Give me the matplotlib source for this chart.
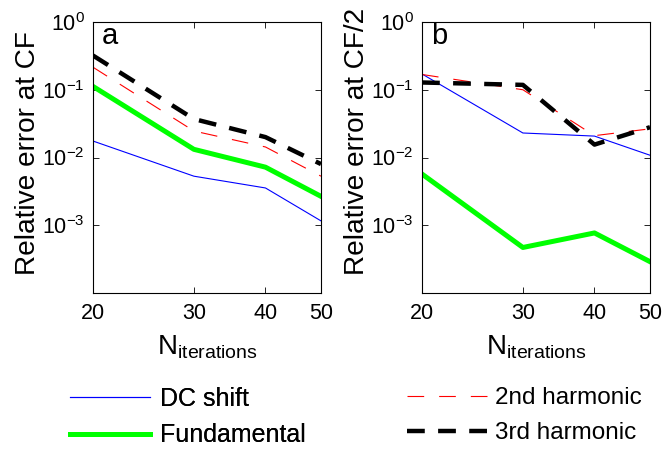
import matplotlib
matplotlib.use("Agg")
import matplotlib.pyplot as plt
from matplotlib.ticker import FixedLocator, FixedFormatter, NullLocator

plt.rcParams['font.family'] = ['Liberation Sans', 'DejaVu Sans']
plt.rcParams['mathtext.fontset'] = 'custom'
plt.rcParams['mathtext.rm'] = 'Liberation Sans'
plt.rcParams['mathtext.it'] = 'Liberation Sans:italic'
plt.rcParams['mathtext.bf'] = 'Liberation Sans:bold'

n_iter = [20, 30, 40, 50]
xtick_labels = ['20', '30', '40', '50']

a_dc = [0.0175, 0.0053, 0.00355, 0.00116]
a_fund = [0.112, 0.0132, 0.0072, 0.00267]
a_h2 = [0.215, 0.0246, 0.0143, 0.0053]
a_h3 = [0.32, 0.037, 0.020, 0.0080]

b_dc = [0.171, 0.023, 0.0207, 0.0108]
b_fund = [0.0057, 0.00047, 0.00077, 0.00029]
b_h2 = [0.168, 0.100, 0.021, 0.0265]
b_h3 = [0.128, 0.118, 0.0155, 0.028]

ytick_vals = [1e-3, 1e-2, 1e-1, 1e0]
ytick_labels = [r'$10^{-3}$', r'$10^{-2}$', r'$10^{-1}$', r'$10^{0}$']

fig = plt.figure(figsize=(6.66, 4.53), dpi=100)
W, H = 666, 453

def make_ax(left_px):
    return fig.add_axes([left_px / W, 1 - 293 / H, 228 / W, 271 / H])

axes = [make_ax(93), make_ax(422)]
data = [(a_dc, a_fund, a_h2, a_h3, 'Relative error at CF', 'a'),
        (b_dc, b_fund, b_h2, b_h3, 'Relative error at CF/2', 'b')]

handles = None
for ax, (dc, fund, h2, h3, ylab, tag) in zip(axes, data):
    l1, = ax.plot(n_iter, dc, color='#0000ff', lw=0.8, label='DC shift')
    l2, = ax.plot(n_iter, fund, color='#00ff00', lw=3.6, label='Fundamental')
    l3, = ax.plot(n_iter, h2, color='#ff0000', lw=0.8, dashes=(15, 13.5), label='2nd harmonic')
    l4, = ax.plot(n_iter, h3, color='black', lw=3.2, dashes=(4.0, 3.0), label='3rd harmonic')
    handles = [l1, l2, l3, l4]
    ax.set_xscale('log')
    ax.set_yscale('log')
    ax.set_xlim(20, 50)
    ax.set_ylim(1e-4, 1e0)
    ax.xaxis.set_major_locator(FixedLocator(n_iter))
    ax.xaxis.set_major_formatter(FixedFormatter(xtick_labels))
    ax.xaxis.set_minor_locator(NullLocator())
    ax.yaxis.set_major_locator(FixedLocator(ytick_vals))
    ax.yaxis.set_major_formatter(FixedFormatter(ytick_labels))
    ax.yaxis.set_minor_locator(NullLocator())
    ax.tick_params(direction='in', top=True, right=True, length=4, width=0.6,
                   labelsize=15.5)
    ax.tick_params(axis='x', pad=7)
    ax.tick_params(axis='y', pad=6)
    for s in ax.spines.values():
        s.set_linewidth(0.8)
    ax.set_ylabel(ylab, fontsize=20.2, ha='left', va='bottom')
    ax.yaxis.set_label_coords(-52 / 228, (293 - 275) / 271)
    ax.set_xlabel(r'N$_{\mathrm{iterations}}$', fontsize=20, labelpad=7)
    ax.text(0.04, 0.92, tag, transform=ax.transAxes, fontsize=21,
            ha='left', va='baseline')

leg1 = fig.legend(handles[:2], ['DC shift', 'Fundamental'],
                  loc='upper left', bbox_to_anchor=(70 / W, 1 - 387 / H),
                  frameon=False, fontsize=18, handlelength=3.2,
                  handletextpad=0.4, labelspacing=0.5, borderaxespad=0,
                  borderpad=0)
leg2 = fig.legend(handles[2:], ['2nd harmonic', '3rd harmonic'],
                  loc='upper left', bbox_to_anchor=(407 / W, 1 - 387 / H),
                  frameon=False, fontsize=17.5, handlelength=3.3,
                  handletextpad=0.33, labelspacing=0.55, borderaxespad=0,
                  borderpad=0)
fig.add_artist(leg1)

fig.savefig('out.png', dpi=100)
